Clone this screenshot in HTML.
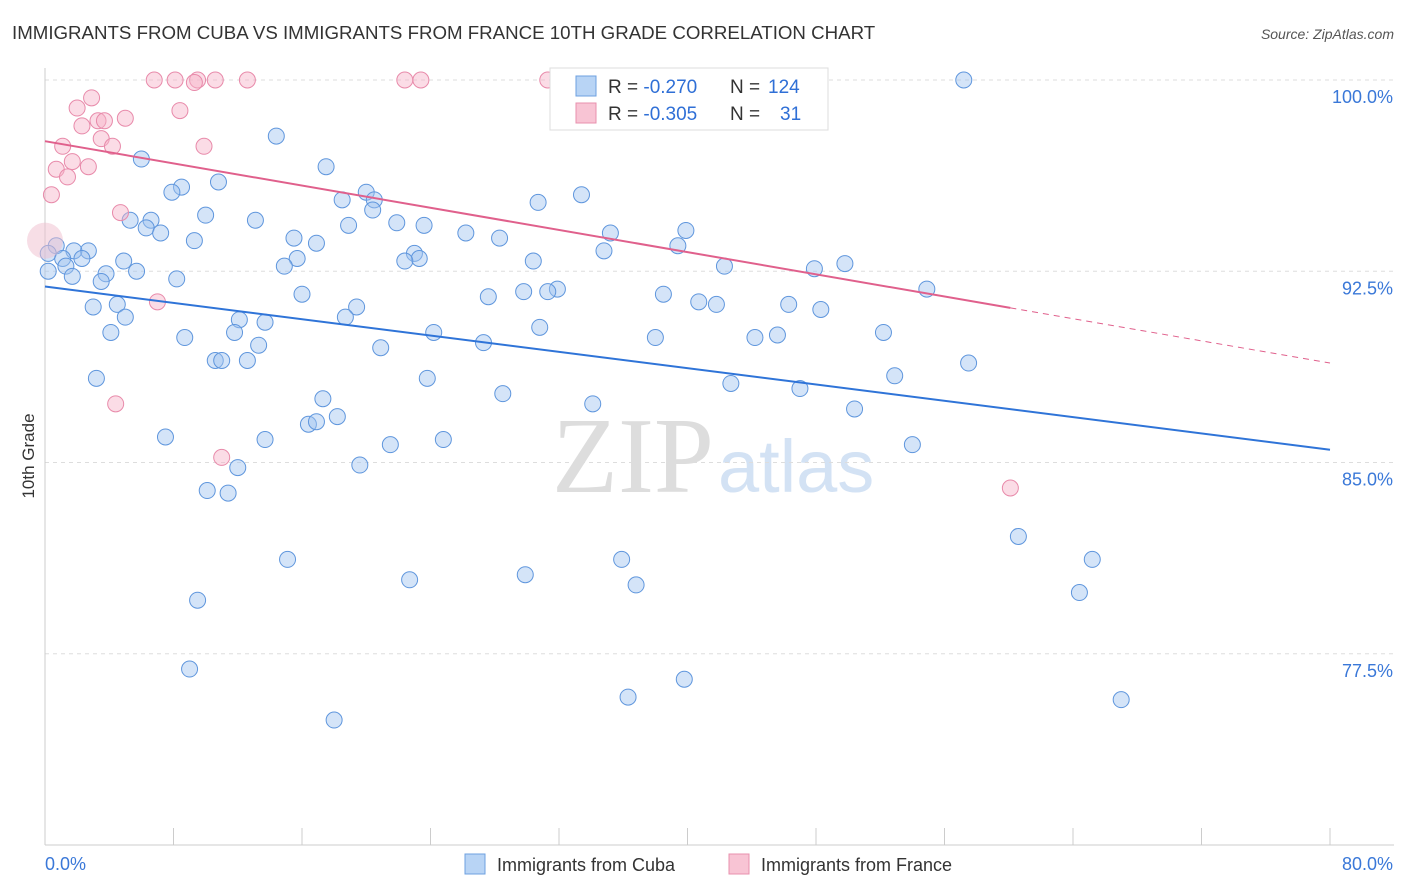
<!DOCTYPE html>
<html><head><meta charset="utf-8">
<style>
body{margin:0;background:#fff;font-family:"Liberation Sans",sans-serif;}
svg{display:block}
</style></head>
<body>
<svg id="chart" width="1406" height="892">
<text x="12" y="39" font-size="18.7" fill="#333">IMMIGRANTS FROM CUBA VS IMMIGRANTS FROM FRANCE 10TH GRADE CORRELATION CHART</text>
<text x="1394" y="39" font-size="14" fill="#555" font-style="italic" text-anchor="end">Source: ZipAtlas.com</text>
<text x="34" y="456" font-size="17" fill="#333" transform="rotate(-90 34 456)" text-anchor="middle">10th Grade</text>
<text x="714" y="492" font-size="108" fill="#ddd" text-anchor="end" font-family="Liberation Serif, serif">ZIP</text>
<text x="718" y="492" font-size="74" fill="#d3e2f4">atlas</text>
<g id="grid"></g><g id="axes"></g><g id="pts"></g><g id="lines"></g>
<g>
<rect x="550" y="68" width="278" height="62" fill="#fff" stroke="#ddd"/>
<rect x="576" y="76" width="20" height="20" fill="#b8d4f5" stroke="#6ea0e0"/>
<text x="608" y="93" font-size="19" fill="#333">R = <tspan fill="#2f6fd6">-0.270</tspan></text>
<text x="730" y="93" font-size="19" fill="#333">N =</text>
<text x="768" y="93" font-size="19" fill="#2f6fd6">124</text>
<rect x="576" y="103" width="20" height="20" fill="#f8c4d4" stroke="#e890ae"/>
<text x="608" y="120" font-size="19" fill="#333">R = <tspan fill="#2f6fd6">-0.305</tspan></text>
<text x="730" y="120" font-size="19" fill="#333">N =</text>
<text x="780" y="120" font-size="19" fill="#2f6fd6">31</text>
</g>
<g>
<rect x="465" y="854" width="20" height="20" fill="#b8d4f5" stroke="#6ea0e0"/>
<text x="497" y="871" font-size="18" fill="#333">Immigrants from Cuba</text></g>
<g>
<rect x="729" y="854" width="20" height="20" fill="#f8c4d4" stroke="#e890ae"/>
<text x="761" y="871" font-size="18" fill="#333">Immigrants from France</text></g>
</svg>
<script>
const yTicks=[100,92.5,85,77.5];
const yTickLabels=["100.0%","92.5%","85.0%","77.5%"];
const xTicks=[0,8,16,24,32,40,48,56,64,72,80];
const cubaX=[57.2,14.4,6.0,17.5,10.8,8.5,7.9,20.0,33.4,20.5,18.5,30.7,20.4,10.0,6.6,5.3,13.1,21.9,23.6,18.9,6.3,7.2,39.9,35.2,26.2,15.5,28.3,9.3,16.9,39.4,0.7,2.7,1.8,0.2,23.0,34.8,1.1,2.3,23.3,22.4,30.4,15.7,4.9,49.8,42.3,47.9,14.9,1.3,0.2,3.8,5.7,1.7,3.5,8.2,54.9,31.9,29.8,31.3,38.5,16.0,27.6,40.7,41.8,46.3,19.4,3.0,4.5,48.3,5.0,12.1,13.7,18.7,30.8,11.8,24.2,52.2,4.1,8.7,45.6,44.2,38.0,13.3,20.9,27.3,10.6,11.0,12.6,57.5,3.2,23.8,52.9,42.7,47.0,28.5,17.3,34.1,50.4,18.2,16.4,16.9,7.5,13.7,24.8,21.5,54.0,12.0,19.6,10.1,11.4,60.6,15.1,35.9,65.2,22.7,29.9,36.8,64.4,9.5,9.0,39.8,36.3,67.0,18.0];
const cubaY=[100.0,97.8,96.9,96.6,96.0,95.8,95.6,95.6,95.5,95.3,95.3,95.2,94.9,94.7,94.5,94.5,94.5,94.4,94.3,94.3,94.2,94.0,94.1,94.0,94.0,93.8,93.8,93.7,93.6,93.5,93.5,93.3,93.3,93.2,93.2,93.3,93.0,93.0,93.0,92.9,92.9,93.0,92.9,92.8,92.7,92.6,92.7,92.7,92.5,92.4,92.5,92.3,92.1,92.2,91.8,91.8,91.7,91.7,91.6,91.6,91.5,91.3,91.2,91.2,91.1,91.1,91.2,91.0,90.7,90.6,90.5,90.7,90.3,90.1,90.1,90.1,90.1,89.9,90.0,89.9,89.9,89.6,89.5,89.7,89.0,89.0,89.0,88.9,88.3,88.3,88.4,88.1,87.9,87.7,87.5,87.3,87.1,86.8,86.5,86.6,86.0,85.9,85.9,85.7,85.7,84.8,84.9,83.9,83.8,82.1,81.2,81.2,81.2,80.4,80.6,80.2,79.9,79.6,76.9,76.5,75.8,75.7,74.9];
const franceX=[6.8,8.1,9.5,10.6,12.6,9.3,22.4,23.4,31.3,2.9,2.0,8.4,5.0,3.3,2.3,3.7,1.1,3.5,4.2,9.9,1.7,2.7,0.7,1.4,4.7,0.4,7.0,4.4,11.0,60.1];
const franceY=[100,100,100,100,100,99.9,100,100,100,99.3,98.9,98.8,98.5,98.4,98.2,98.4,97.4,97.7,97.4,97.4,96.8,96.6,96.5,96.2,94.8,95.5,91.3,87.3,85.2,84.0];
const cubaTrend=[91.9,85.5];
const franceTrend=[97.6,88.9];
const franceTrendSolidEnd=60.1;
const X=v=>45+v*(1285/80);
const Y=v=>80+(100-v)*(765/30);
const NS="http://www.w3.org/2000/svg";
function mk(p,t,a){const e=document.createElementNS(NS,t);for(const k in a)e.setAttribute(k,a[k]);p.appendChild(e);return e;}
const grid=document.getElementById('grid'),axes=document.getElementById('axes'),pts=document.getElementById('pts'),lines=document.getElementById('lines');
yTicks.forEach((t,i)=>{
 const l=mk(grid,'line',{x1:45,x2:1394,y1:Y(t),y2:Y(t),stroke:'#ddd','stroke-dasharray':'4,4'});
 
 
 const tx=mk(axes,'text',{x:1393,y:Y(t)+23,'font-size':18,fill:'#3a78d8','text-anchor':'end'});
 tx.textContent=yTickLabels[i];
 
 
});
const ax=mk(axes,'line',{x1:45,x2:45,y1:68,y2:845,stroke:'#ccc'});


const bx=mk(axes,'line',{x1:45,x2:1394,y1:845,y2:845,stroke:'#ccc'});


xTicks.forEach(t=>{
 const l=mk(axes,'line',{x1:X(t),x2:X(t),y1:828,y2:845,stroke:'#ccc'});
 
 
});
const x0=mk(axes,'text',{x:45,y:870,'font-size':18,fill:'#3a78d8'});x0.textContent='0.0%';


const x1=mk(axes,'text',{x:1393,y:870,'font-size':18,fill:'#3a78d8','text-anchor':'end'});x1.textContent='80.0%';


cubaX.forEach((v,i)=>{
 const c=mk(pts,'circle',{cx:X(v),cy:Y(cubaY[i]),r:8,fill:'rgba(160,196,240,0.45)',stroke:'#5f96dd','stroke-width':1});
 
 
});
franceX.forEach((v,i)=>{
 const c=mk(pts,'circle',{cx:X(v),cy:Y(franceY[i]),r:8,fill:'rgba(246,178,200,0.45)',stroke:'#e88aaa','stroke-width':1});
 
 
});
const big=mk(pts,'circle',{cx:X(0),cy:Y(93.7),r:18,fill:'rgba(240,190,205,0.5)',stroke:'none'});


const bl=mk(lines,'line',{x1:X(0),y1:Y(cubaTrend[0]),x2:X(80),y2:Y(cubaTrend[1]),stroke:'#2f74d8','stroke-width':2});


const fy=x=>franceTrend[0]+(franceTrend[1]-franceTrend[0])*x/80;
const pl=mk(lines,'line',{x1:X(0),y1:Y(franceTrend[0]),x2:X(franceTrendSolidEnd),y2:Y(fy(franceTrendSolidEnd)),stroke:'#e0608c','stroke-width':2});


const pd=mk(lines,'line',{x1:X(franceTrendSolidEnd),y1:Y(fy(franceTrendSolidEnd)),x2:X(80),y2:Y(franceTrend[1]),stroke:'#e0608c','stroke-width':1,'stroke-dasharray':'6,5'});


</script>
</body></html>
